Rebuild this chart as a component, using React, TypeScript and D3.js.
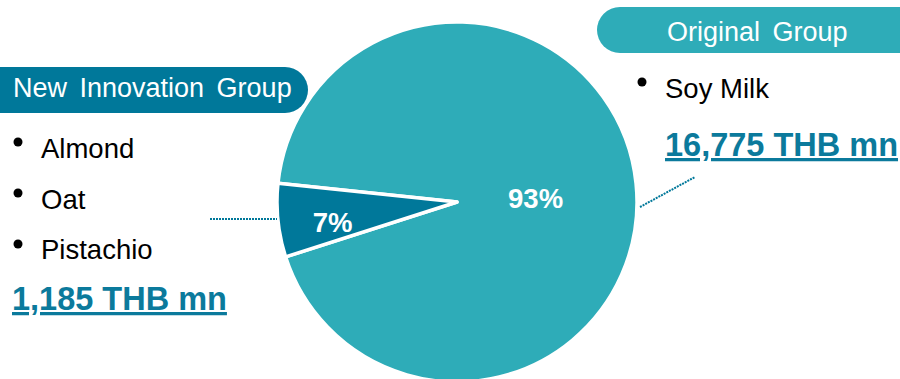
import React from "react";
import * as d3 from "d3";

const W = 900;
const H = 379;

const groups = ["Original Group", "New Innovation Group"];
const values = [16775, 1185];
const percentLabels = ["93%", "7%"];
const leftItems = ["Almond", "Oat", "Pistachio"];
const rightItems = ["Soy Milk"];
const valueLabels = ["16,775 THB mn", "1,185 THB mn"];

const TEAL = "#2EACB8";
const DARK = "#00789A";
const VALUE_COLOR = "#0B7A9C";
const FONT = "'Liberation Sans', Arial, sans-serif";

export default function App() {
  const cx = 457;
  const cy = 202;
  const r = 180;
  const pie = d3
    .pie<number>()
    .sort(null)
    .startAngle((-84 * Math.PI) / 180)
    .endAngle((-84 * Math.PI) / 180 + 2 * Math.PI);
  const arcs = pie(values);
  const arc = d3.arc<d3.PieArcDatum<number>>().innerRadius(0).outerRadius(r);
  const labelRadii = [77, 124];
  const labelShift = [
    [2, 4],
    [-1, 8],
  ];
  const colors = [TEAL, DARK];

  return (
    <svg
      width={W}
      height={H}
      style={{ position: "absolute", left: 0, top: 0, display: "block" }}
      fontFamily={FONT}
    >
      <rect width={W} height={H} fill="#fff" />
      {/* pie */}
      <g transform={`translate(${cx},${cy})`}>
        {arcs.map((a, i) => (
          <path
            key={i}
            d={arc(a) || ""}
            fill={colors[i]}
            stroke="#fff"
            strokeWidth={3.5}
            strokeLinejoin="round"
          />
        ))}
        {arcs.map((a, i) => {
          const la = d3
            .arc<d3.PieArcDatum<number>>()
            .innerRadius(labelRadii[i])
            .outerRadius(labelRadii[i]);
          const [x, y] = la.centroid(a);
          return (
            <text
              key={i}
              x={x + labelShift[i][0]}
              y={y + labelShift[i][1]}
              dy="0.35em"
              textAnchor="middle"
              fill="#fff"
              fontWeight="bold"
              fontSize={27.5}
            >
              {percentLabels[i]}
            </text>
          );
        })}
      </g>

      {/* leader lines */}
      <line x1={210} y1={219} x2={277} y2={219} stroke={DARK} strokeWidth={2} strokeDasharray="2 1" />
      <line x1={640} y1={207} x2={695} y2={177} stroke={DARK} strokeWidth={2} strokeDasharray="2 1" />

      {/* left group */}
      <rect x={-40} y={67} width={348} height={46} rx={23} fill={DARK} />
      <text x={13} y={97} fill="#fff" fontSize={27} wordSpacing={5}>
        {groups[1]}
      </text>
      {leftItems.map((t, i) => (
        <g key={t}>
          <circle cx={18} cy={142 + i * 51} r={4.5} fill="#000" />
          <text x={41} y={158 + i * 50.7} fontSize={27.5} fill="#000">
            {t}
          </text>
        </g>
      ))}
      <text
        x={12}
        y={310}
        fontSize={32.5}
        fontWeight="bold"
        fill={VALUE_COLOR}
        style={{ textDecoration: "underline" }}
      >
        {valueLabels[1]}
      </text>

      {/* right group */}
      <rect x={597} y={7} width={340} height={46} rx={23} fill={TEAL} />
      <text x={667} y={41} fill="#fff" fontSize={27} wordSpacing={5}>
        {groups[0]}
      </text>
      {rightItems.map((t, i) => (
        <g key={t}>
          <circle cx={642} cy={82 + i * 51} r={4.5} fill="#000" />
          <text x={665} y={98 + i * 51} fontSize={27.5} fill="#000">
            {t}
          </text>
        </g>
      ))}
      <text
        x={665}
        y={156}
        fontSize={32.5}
        fontWeight="bold"
        fill={VALUE_COLOR}
        style={{ textDecoration: "underline" }}
      >
        {valueLabels[0]}
      </text>
    </svg>
  );
}
